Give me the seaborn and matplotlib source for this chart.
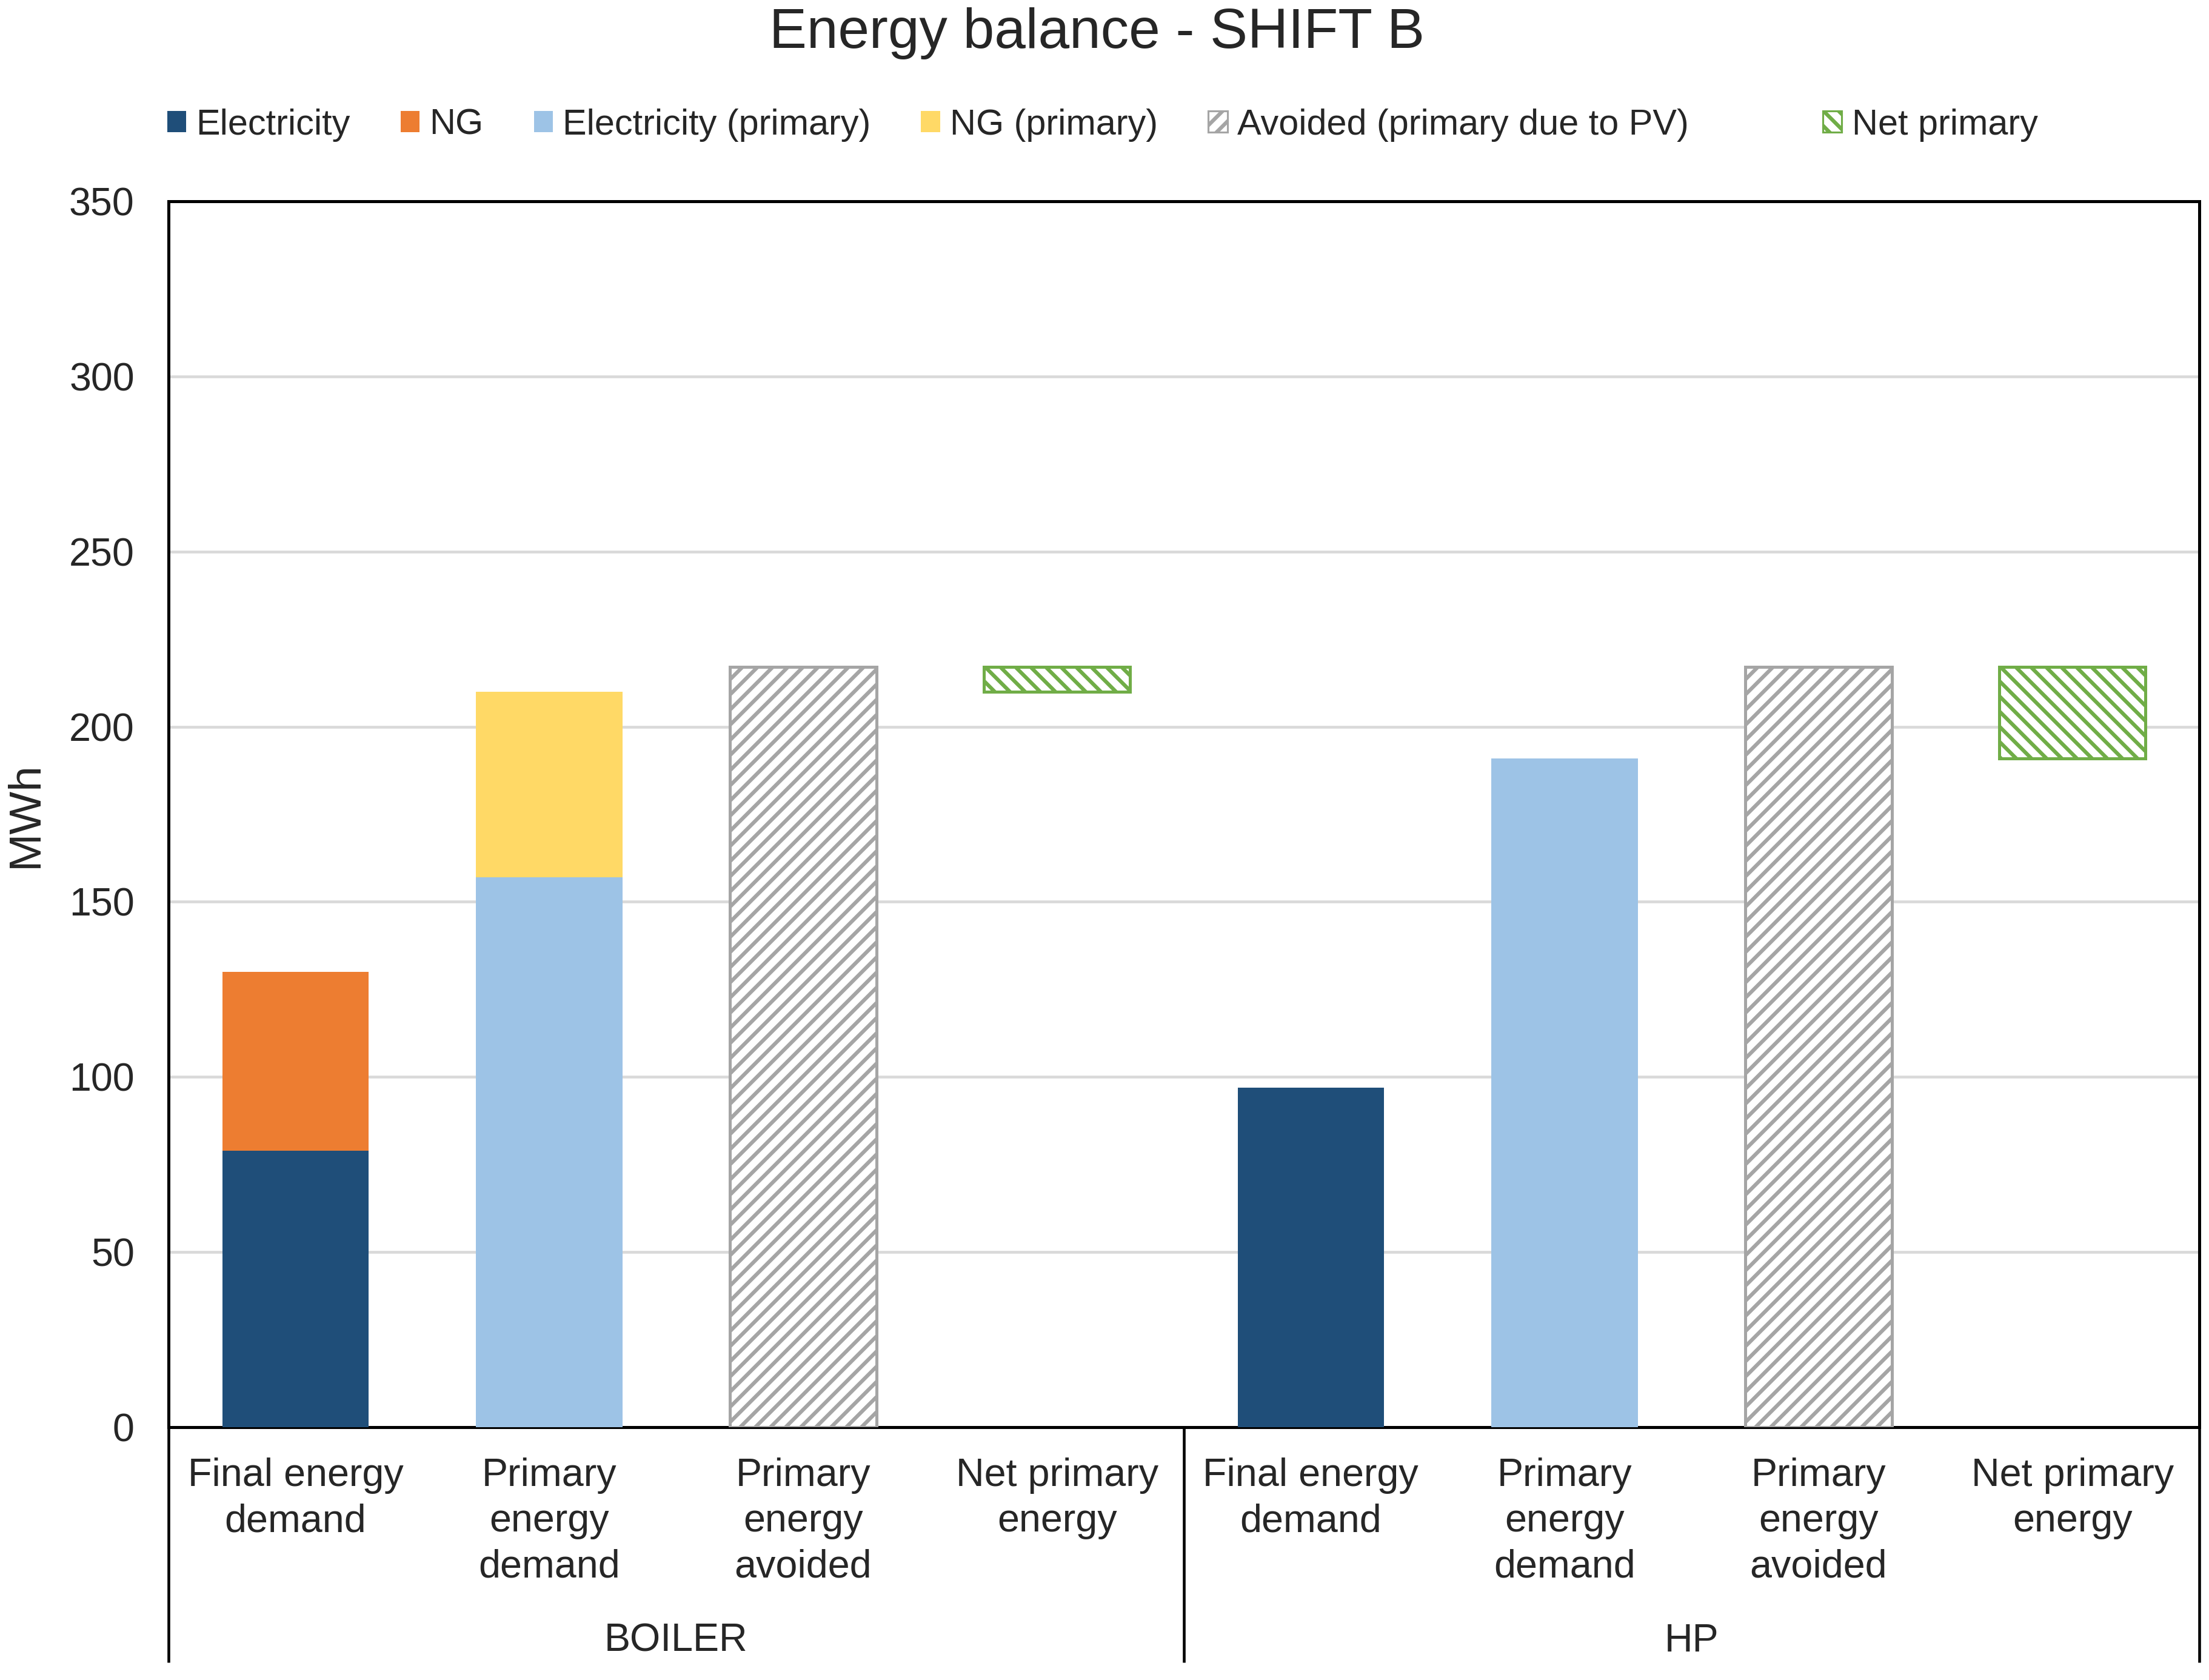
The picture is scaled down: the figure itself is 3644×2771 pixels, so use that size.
import numpy as np
import pandas as pd
import matplotlib
matplotlib.use("Agg")
import matplotlib.pyplot as plt
from matplotlib.patches import Patch
import seaborn as sns

# ---------------- data ----------------
groups = ["BOILER", "HP"]
bar_labels = ["Final energy\ndemand", "Primary\nenergy\ndemand",
              "Primary\nenergy\navoided", "Net primary\nenergy"]
categories = [f"{g}|{b}" for g in groups for b in bar_labels]

# values per group (BOILER, HP), MWh
final_electricity = [79, 97]
final_ng = [51, 0]
primary_electricity = [157, 191]
primary_ng = [53, 0]
primary_avoided = [217, 217]

series_names = ["Electricity", "NG", "Electricity (primary)", "NG (primary)",
                "Avoided (primary due to PV)", "Net primary"]
yticks = [0, 50, 100, 150, 200, 250, 300, 350]

# ---------------- style ----------------
sns.set_theme(style="white")
plt.rcParams["font.family"] = ["Liberation Sans", "DejaVu Sans"]
plt.rcParams["hatch.linewidth"] = 3.0

colors = {
    "Electricity": "#1F4E79",
    "NG": "#ED7D31",
    "Electricity (primary)": "#9DC3E6",
    "NG (primary)": "#FFD966",
    "Avoided (primary due to PV)": "#A5A5A5",
    "Net primary": "#70AD47",
}

DPI = 150
fig = plt.figure(figsize=(3644 / DPI, 2771 / DPI), dpi=DPI)
ax = fig.add_axes([0.0763, 0.1505, 0.9956 - 0.0763, 0.8802 - 0.1505])

# build segments: (series, category, height, bottom)
rows = []
for gi, g in enumerate(groups):
    c_final = f"{g}|{bar_labels[0]}"
    c_prim = f"{g}|{bar_labels[1]}"
    c_avoid = f"{g}|{bar_labels[2]}"
    c_net = f"{g}|{bar_labels[3]}"
    rows.append(("Electricity", c_final, final_electricity[gi], 0))
    if final_ng[gi] > 0:
        rows.append(("NG", c_final, final_ng[gi], final_electricity[gi]))
    rows.append(("Electricity (primary)", c_prim, primary_electricity[gi], 0))
    if primary_ng[gi] > 0:
        rows.append(("NG (primary)", c_prim, primary_ng[gi], primary_electricity[gi]))
    rows.append(("Avoided (primary due to PV)", c_avoid, primary_avoided[gi], 0))
    demand = primary_electricity[gi] + primary_ng[gi]
    rows.append(("Net primary", c_net, primary_avoided[gi] - demand, demand))
df = pd.DataFrame(rows, columns=["series", "category", "value", "bottom"])
df["order"] = df["category"].map({c: i for i, c in enumerate(categories)})

bar_width = 0.577
for s in series_names:
    sub = df[df["series"] == s].sort_values("order")
    kw = dict(linewidth=0)
    if s == "Avoided (primary due to PV)":
        kw = dict(facecolor="white", edgecolor=colors[s], hatch="//", linewidth=2.4)
    elif s == "Net primary":
        kw = dict(facecolor="white", edgecolor=colors[s], hatch="\\\\", linewidth=2.4)
    sns.barplot(data=sub, x="category", y="value", order=categories,
                color=colors[s], saturation=1, width=bar_width, errorbar=None,
                bottom=sub["bottom"].to_numpy(), ax=ax, zorder=3, **kw)

# ---------------- axes ----------------
ax.set_xlim(-0.5, len(categories) - 0.5)
ax.set_ylim(0, 350)
ax.set_yticks(yticks)
ax.set_yticklabels([str(v) for v in yticks], fontsize=31)
ax.set_xticks(range(len(categories)))
ax.set_xticklabels([c.split("|")[1] for c in categories], fontsize=31,
                   linespacing=1.33)
ax.tick_params(axis="y", length=0, pad=27)
ax.tick_params(axis="x", length=0, pad=24)
ax.set_xlabel("")
ax.set_ylabel("")
ax.yaxis.grid(True, color="#D9D9D9", linewidth=2.2)
ax.xaxis.grid(False)
ax.set_axisbelow(True)
for sp in ax.spines.values():
    sp.set_visible(True)
    sp.set_color("black")
    sp.set_linewidth(2.4)

# group separators and group labels
trans = ax.get_xaxis_transform()
for xs in [-0.5, 3.5, 7.5]:
    ax.plot([xs, xs], [0, -0.192], transform=trans, clip_on=False,
            color="black", linewidth=2.2, solid_capstyle="butt")
for gi, g in enumerate(groups):
    ax.text(gi * 4 + 1.5, -0.1745, g, transform=trans, ha="center",
            va="center", fontsize=31)

# y label and title
fig.text(0.0115, 0.5153, "MWh", rotation=90, ha="center", va="center", fontsize=36)
fig.text(0.4965, 0.9800, "Energy balance - SHIFT B", ha="center", va="center",
         fontsize=44.5)

# ---------------- legend ----------------
def handle(s):
    if s == "Avoided (primary due to PV)":
        return Patch(facecolor="white", edgecolor=colors[s], hatch="//", linewidth=1.5)
    if s == "Net primary":
        return Patch(facecolor="white", edgecolor=colors[s], hatch="\\\\", linewidth=1.5)
    return Patch(facecolor=colors[s], edgecolor="none")

leg_kw = dict(frameon=False, fontsize=28.5, handlelength=0.53, handleheight=0.53,
              handletextpad=0.27, borderpad=0, borderaxespad=0, loc="center left")
fig.legend([handle(s) for s in series_names[:5]], series_names[:5],
           ncol=5, columnspacing=1.40, bbox_to_anchor=(0.0757, 0.9255), **leg_kw)
fig.legend([handle(series_names[5])], [series_names[5]], ncol=1,
           bbox_to_anchor=(0.8252, 0.9255), **leg_kw)

fig.savefig("out.png", dpi=DPI, facecolor="white")
